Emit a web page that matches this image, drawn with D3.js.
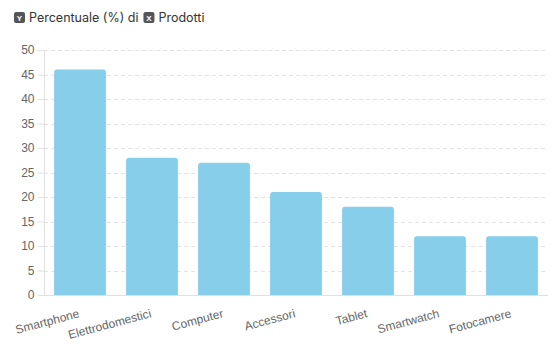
<!DOCTYPE html>
<html><head><meta charset="utf-8">
<script src="https://cdn.jsdelivr.net/npm/d3@7"></script>
<style>body{margin:0;background:#fff;}svg{display:block;}</style>
</head><body>
<svg id="c" width="559" height="355"></svg>
<script>
const categories = ["Smartphone","Elettrodomestici","Computer","Accessori","Tablet","Smartwatch","Fotocamere"];
const values = [46, 28, 27, 21, 18, 12, 12];
const yTicks = [0,5,10,15,20,25,30,35,40,45,50];
const yLabel = "Percentuale (%)";
const xLabel = "Prodotti";

const W = 559, H = 355;
const m = {top: 50, right: 11, bottom: 60, left: 44};
const svg = d3.select("#c");
const x = d3.scaleBand().domain(categories).range([m.left, W - m.right]).paddingInner(0.28).paddingOuter(0.14);
const y = d3.scaleLinear().domain([0, 50]).range([H - m.bottom, m.top]);

// gridlines
svg.append("g").selectAll("line").data(yTicks.filter(t => t > 0)).join("line")
  .attr("x1", m.left).attr("x2", W - m.right)
  .attr("y1", d => Math.round(y(d)) + 0.5).attr("y2", d => Math.round(y(d)) + 0.5)
  .attr("stroke", "#e3e3e3").attr("stroke-dasharray", "4,3");

// y axis
const ya = svg.append("g").attr("transform", `translate(${m.left + 0.5},0)`)
  .call(d3.axisLeft(y).tickValues(yTicks).tickSize(7).tickPadding(3));
ya.select(".domain").attr("stroke", "#e0e0e0").attr("d", `M0,${m.top}V${H - m.bottom}`);
ya.selectAll(".tick line").attr("stroke", "#e0e0e0");
ya.selectAll(".tick text").attr("fill", "#666").style("font", "12px 'Liberation Sans', Arial, sans-serif");

// bars
const r = 3;
svg.append("g").selectAll("path").data(categories).join("path")
  .attr("fill", "#87CEEB")
  .attr("d", (c, i) => {
    const x0 = x(c), w = x.bandwidth(), y0 = y(values[i]), yb = y(0);
    return `M${x0},${yb}V${y0 + r}Q${x0},${y0} ${x0 + r},${y0}H${x0 + w - r}Q${x0 + w},${y0} ${x0 + w},${y0 + r}V${yb}Z`;
  });

// x axis
svg.append("line").attr("x1", m.left).attr("x2", W - m.right)
  .attr("y1", y(0) + 0.5).attr("y2", y(0) + 0.5).attr("stroke", "#e0e0e0");
const xa = svg.append("g").attr("transform", `translate(0,${y(0)})`)
  .call(d3.axisBottom(x).tickSize(0).tickPadding(0));
xa.select(".domain").remove();
xa.selectAll(".tick text")
  .attr("fill", "#666")
  .style("font", "12px 'Liberation Sans', Arial, sans-serif")
  .attr("text-anchor", "end")
  .attr("dy", null)
  .attr("y", 0)
  .attr("transform", "translate(0,22) rotate(-15)");

// title with badges
const tg = svg.append("g").style("font", "12.5px Inter, 'Noto Sans', sans-serif");
function badge(xp, letter) {
  tg.append("rect").attr("x", xp).attr("y", 12).attr("width", 11).attr("height", 11).attr("rx", 2).attr("fill", "#555");
  tg.append("text").attr("x", xp + 5.5).attr("y", 20.5).attr("text-anchor", "middle")
    .attr("fill", "#fff").style("font", "bold 8px 'Liberation Sans', Arial, sans-serif").text(letter);
}
badge(14, "Y");
const t1 = tg.append("text").attr("x", 29).attr("y", 22).attr("fill", "#333").text(yLabel + " di");
const w1 = t1.node().getComputedTextLength();
const bx = 29 + w1 + 5;
badge(bx, "X");
tg.append("text").attr("x", bx + 15).attr("y", 22).attr("fill", "#333").text(xLabel);
</script>
</body></html>
